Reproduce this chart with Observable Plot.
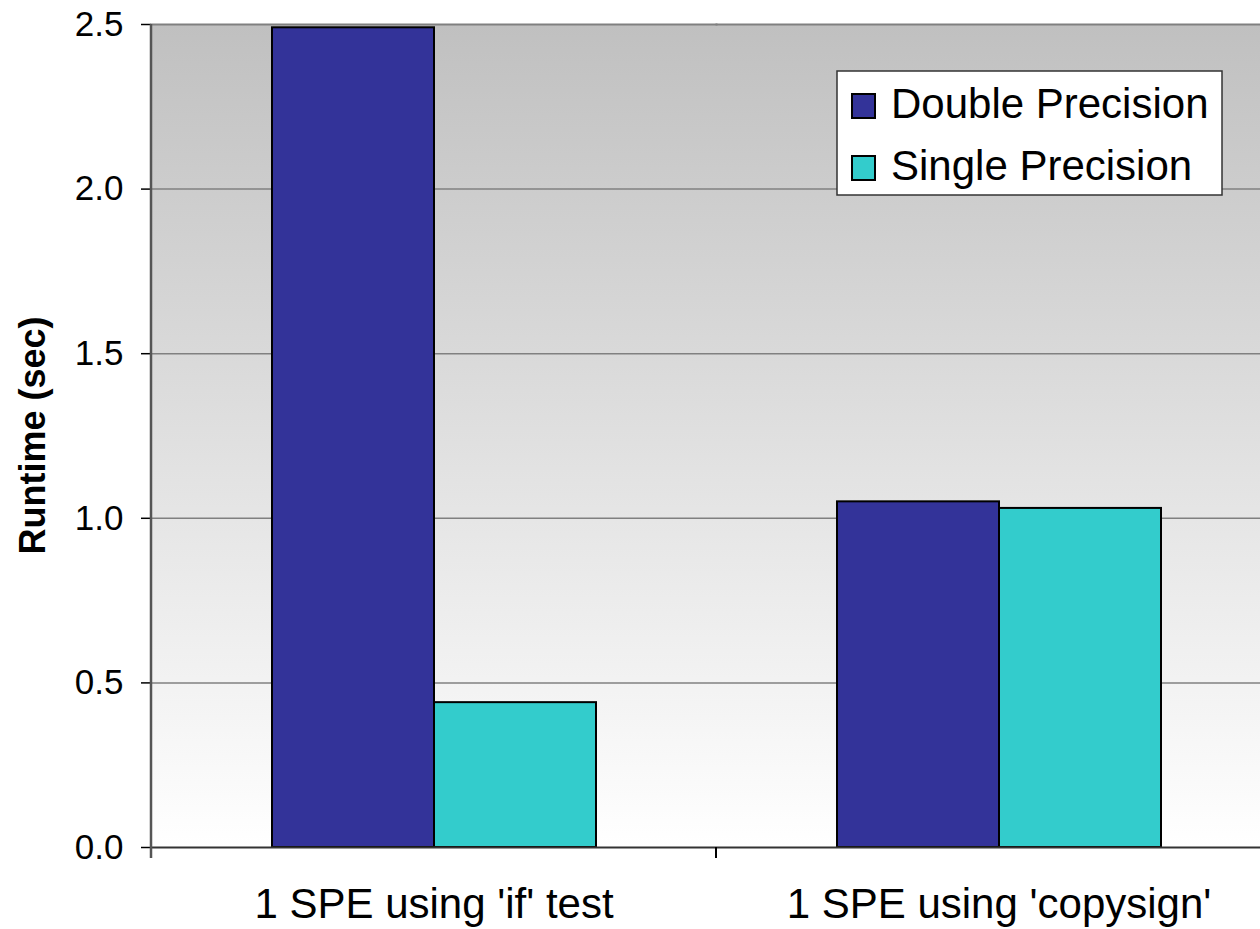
<!DOCTYPE html>
<html>
<head>
<meta charset="utf-8">
<script src="https://cdn.jsdelivr.net/npm/d3@7"></script>
<script src="https://cdn.jsdelivr.net/npm/@observablehq/plot@0.6"></script>
<style>
  html, body { margin: 0; padding: 0; background: white; overflow: hidden; }
  #chart { width: 1260px; height: 929px; overflow: hidden; }
</style>
</head>
<body>
<div id="chart"></div>
<script>
const categories = ["1 SPE using 'if' test", "1 SPE using 'copysign'"];
const series = ["Double Precision", "Single Precision"];
const doubleValues = [2.49, 1.05];
const singleValues = [0.44, 1.03];
const yTicks = [0, 0.5, 1.0, 1.5, 2.0, 2.5];
const seriesColors = ["#333399", "#33CCCC"];
const yTitle = "Runtime (sec)";

const data = categories.flatMap((c, i) => [
  {category: c, series: series[0], value: doubleValues[i]},
  {category: c, series: series[1], value: singleValues[i]}
]);

const FONT = "'Liberation Sans', Arial, sans-serif";

const chart = Plot.plot({
  width: 1281,
  height: 929,
  marginLeft: 151,
  marginRight: 0,
  marginTop: 24,
  marginBottom: 82,
  style: {maxWidth: "none", fontFamily: FONT, background: "white", color: "black", overflow: "visible"},
  fx: {domain: categories, padding: 0, label: null},
  x: {domain: series, paddingInner: 0, paddingOuter: 0.735, axis: null, label: null},
  y: {domain: [0, 2.5], label: null},
  color: {domain: series, range: seriesColors},
  marks: [
    Plot.frame({fill: "url(#bgGrad)", stroke: "none", insetRight: -1, shapeRendering: "crispEdges"}),
    Plot.gridY(yTicks.filter(d => d > 0 && d < 2.5), {stroke: "#808080", strokeOpacity: 1, strokeWidth: 1.5}),
    Plot.frame({anchor: "top", stroke: "#808080", strokeWidth: 2}),
    Plot.barY(data, {fx: "category", x: "series", y: "value", fill: "series", stroke: "black", strokeWidth: 2}),
    Plot.ruleY([0], {stroke: "#333333", strokeWidth: 2}),
    Plot.axisY({ticks: yTicks, tickFormat: d3.format(".1f"), tickSize: 10, tickPadding: 18, fontSize: 35, stroke: "black", strokeWidth: 1.5, label: null}),
    Plot.axisFx({anchor: "bottom", tickSize: 0, tickPadding: 41, fontSize: 42, label: null})
  ]
});

document.getElementById("chart").appendChild(chart);

// gradient background definition
const svg = d3.select(chart);
const defs = svg.insert("defs", ":first-child");
const grad = defs.append("linearGradient").attr("id", "bgGrad")
  .attr("x1", 0).attr("y1", 0).attr("x2", 0).attr("y2", 1);
grad.append("stop").attr("offset", "0%").attr("stop-color", "#c0c0c0");
grad.append("stop").attr("offset", "100%").attr("stop-color", "#ffffff");

// decorations positioned from Plot's own scales
const fxS = chart.scale("fx");
const yS = chart.scale("y");
const colorS = chart.scale("color");
const y0 = yS.apply(0);
const yTop = yS.apply(2.5);
const xLeft = fxS.apply(categories[0]);

const deco = svg.append("g").attr("font-family", FONT);

// left axis line (extends below baseline as a tick)
deco.append("line")
  .attr("x1", xLeft).attr("x2", xLeft)
  .attr("y1", yTop).attr("y2", y0 + 11)
  .attr("stroke", "#555").attr("stroke-width", 2.5);

// category boundary ticks
categories.slice(1).forEach(c => {
  const xb = fxS.apply(c);
  deco.append("line")
    .attr("x1", xb).attr("x2", xb)
    .attr("y1", y0).attr("y2", y0 + 11)
    .attr("stroke", "black").attr("stroke-width", 2);
});

// y-axis title
deco.append("text")
  .attr("transform", `translate(45,${(yTop + y0) / 2}) rotate(-90)`)
  .attr("text-anchor", "middle")
  .attr("font-size", 36)
  .attr("font-weight", "bold")
  .attr("fill", "black")
  .text(yTitle);

// legend
const lg = deco.append("g");
lg.append("rect")
  .attr("x", 837).attr("y", 71).attr("width", 385).attr("height", 124)
  .attr("fill", "white").attr("stroke", "#333").attr("stroke-width", 1.5);
series.forEach((s, i) => {
  const base = 118 + i * 62;
  lg.append("rect")
    .attr("x", 852).attr("y", base - 24).attr("width", 23).attr("height", 24)
    .attr("fill", colorS.apply(s)).attr("stroke", "black").attr("stroke-width", 2);
  lg.append("text")
    .attr("x", 891).attr("y", base)
    .attr("font-size", 42).attr("fill", "black")
    .attr("text-anchor", "start")
    .text(s);
});
</script>
</body>
</html>
